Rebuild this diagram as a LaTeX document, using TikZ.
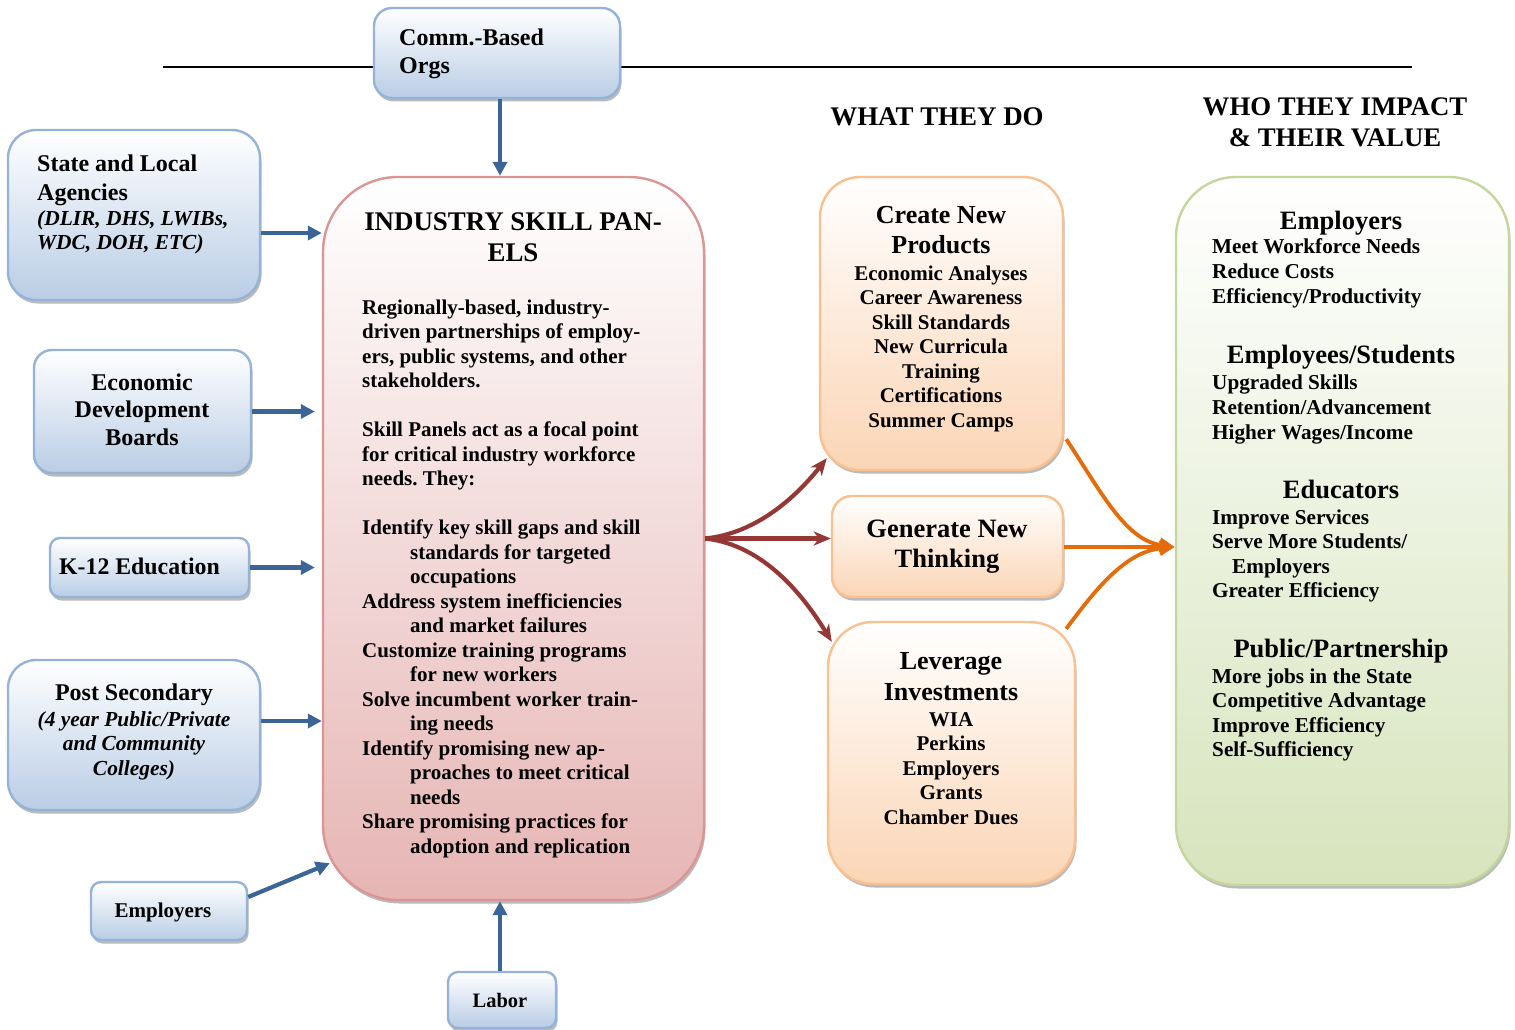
\documentclass[tikz,border=0pt]{standalone}
\usepackage{fontspec}
\setmainfont{Liberation Serif}
\usetikzlibrary{arrows.meta,shadows,calc}
\definecolor{bluefill}{HTML}{B9CDE5}
\definecolor{bluebd}{HTML}{95B3D7}
\definecolor{pinkfill}{HTML}{E6B5B4}
\definecolor{pinkbd}{HTML}{D99694}
\definecolor{orfill}{HTML}{FBD5B5}
\definecolor{orbd}{HTML}{FAC08F}
\definecolor{grfill}{HTML}{D7E4BD}
\definecolor{grbd}{HTML}{C3D69B}
\definecolor{arblue}{HTML}{3B6497}
\definecolor{arred}{HTML}{953735}
\definecolor{arorange}{HTML}{E46C0A}
\newcommand\fsz[2]{\fontsize{#1}{#2}\selectfont}
\frenchspacing
\tikzset{
  shad/.style={drop shadow={shadow xshift=1.5pt,shadow yshift=-3.5pt,fill=black!45,opacity=0.6}},
  bluebox/.style={draw=bluebd,line width=2.4pt,top color=white,bottom color=bluefill,shad,inner sep=0},
  pinkbox/.style={draw=pinkbd,line width=2.4pt,top color=white,bottom color=pinkfill,shad,inner sep=0},
  orbox/.style={draw=orbd,line width=2.4pt,top color=white,bottom color=orfill,shad,inner sep=0},
  grbox/.style={draw=grbd,line width=2.4pt,top color=white,bottom color=grfill,shad,inner sep=0},
  txt/.style={inner sep=0,font=\bfseries},
  barrow/.style={draw=arblue,line width=4.2pt,-{Triangle[length=14pt,width=14pt]}},
  rarrow/.style={draw=arred,line width=4.2pt,-{Stealth[length=17pt,width=14pt,inset=5pt]}},
  oarrow/.style={draw=arorange,line width=3.8pt,-{Triangle[length=15pt,width=14pt]}},
}
\begin{document}
\begin{tikzpicture}[x=1pt,y=-1pt]
\fill[white] (0,0) rectangle (1515,1030);
\useasboundingbox (0,0) rectangle (1515,1030);

% top line
\coordinate (hl1) at (163,67);
\coordinate (hl2) at (1412,67);
\draw[line width=1.6pt] (hl1) -- (hl2);

% boxes
\node[bluebox,minimum width=246pt,minimum height=90pt,rounded corners=18pt] (comm) at (497,53) {};
\node[bluebox,minimum width=252pt,minimum height=170pt,rounded corners=28pt] (state) at (134,215) {};
\node[bluebox,minimum width=217pt,minimum height=123pt,rounded corners=18pt] (econ) at (142.5,411.5) {};
\node[bluebox,minimum width=199pt,minimum height=59pt,rounded corners=10pt] (k12) at (149.5,567.5) {};
\node[bluebox,minimum width=252pt,minimum height=150pt,rounded corners=28pt] (post) at (134,735) {};
\node[bluebox,minimum width=156pt,minimum height=58pt,rounded corners=10pt] (emp) at (169,911) {};
\node[bluebox,minimum width=108pt,minimum height=56pt,rounded corners=10pt] (labor) at (502,1000) {};
\node[pinkbox,minimum width=381pt,minimum height=723pt,rounded corners=75pt] (panel) at (513.5,538.5) {};
\node[orbox,minimum width=243pt,minimum height=293pt,rounded corners=40pt] (create) at (941.5,323.5) {};
\node[orbox,minimum width=231pt,minimum height=101pt,rounded corners=20pt] (gen) at (947.5,546.5) {};
\node[orbox,minimum width=247pt,minimum height=262pt,rounded corners=45pt] (lev) at (951.5,753) {};
\node[grbox,minimum width=333pt,minimum height=708pt,rounded corners=60pt] (green) at (1342.5,531) {};

% texts
\node[txt,anchor=north west,align=left,font=\fsz{24}{28}\bfseries] (commt) at (399,29) {Comm.-Based\\Orgs};
\node[txt,anchor=north west,align=left,font=\fsz{24}{29}\bfseries] (statet) at (37,155) {State and Local\\Agencies};
\node[txt,anchor=north west,align=left,font=\fsz{21.4}{24.5}\bfseries\itshape] (states) at (37,210) {(DLIR, DHS, LWIBs,\\WDC, DOH, ETC)};
\node[txt,anchor=north,align=center,font=\fsz{24}{27.5}\bfseries] (econt) at (142,373.5) {Economic\\Development\\Boards};
\node[txt,anchor=base,font=\fsz{23.8}{26}\bfseries] (k12t) at (139.5,574) {K-12 Education};
\node[txt,anchor=base,font=\fsz{24}{28}\bfseries] (postt) at (134,700) {Post Secondary};
\node[txt,anchor=north,align=center,font=\fsz{21.4}{24.5}\bfseries\itshape] (posts) at (134,711) {(4 year Public/Private\\and Community\\Colleges)};
\node[txt,anchor=base,font=\fsz{21}{25}\bfseries] (empt) at (163,917) {Employers};
\node[txt,anchor=base,font=\fsz{20.5}{25}\bfseries] (labort) at (500,1007) {Labor};

\node[txt,anchor=north,align=center,font=\fsz{26.9}{31}\bfseries] (panelt) at (513,212.5) {INDUSTRY SKILL PAN-\\ELS};
\node[txt,anchor=north west,align=left,font=\fsz{21}{24.5}\bfseries] (panelb) at (362,299.5) {%
Regionally-based, industry-\\
driven partnerships of employ-\\
ers, public systems, and other\\
stakeholders.\\[24.5pt]
Skill Panels act as a focal point\\
for critical industry workforce\\
needs. They:\\[24.5pt]
Identify key skill gaps and skill\\
\hspace*{48pt}standards for targeted\\
\hspace*{48pt}occupations\\
Address system inefficiencies\\
\hspace*{48pt}and market failures\\
Customize training programs\\
\hspace*{48pt}for new workers\\
Solve incumbent worker train-\\
\hspace*{48pt}ing needs\\
Identify promising new ap-\\
\hspace*{48pt}proaches to meet critical\\
\hspace*{48pt}needs\\
Share promising practices for\\
\hspace*{48pt}adoption and replication};

\node[txt,anchor=base,font=\fsz{26.9}{30}\bfseries] (what) at (937,126) {WHAT THEY DO};
\node[txt,anchor=north,align=center,font=\fsz{26.8}{31}\bfseries] (who) at (1335,98) {WHO THEY IMPACT\\\& THEIR VALUE};

\node[txt,anchor=north,align=center,font=\fsz{26}{30}\bfseries] (createt) at (941,206.5) {Create New\\Products};
\node[txt,anchor=north,align=center,font=\fsz{21}{24.5}\bfseries] (createb) at (941,265.5) {Economic Analyses\\Career Awareness\\Skill Standards\\New Curricula\\Training\\Certifications\\Summer Camps};
\node[txt,anchor=north,align=center,font=\fsz{26.5}{30}\bfseries] (gent) at (947,519.5) {Generate New\\Thinking};
\node[txt,anchor=north,align=center,font=\fsz{26}{31}\bfseries] (levt) at (951,652.5) {Leverage\\Investments};
\node[txt,anchor=north,align=center,font=\fsz{21}{24.5}\bfseries] (levb) at (951,712) {WIA\\Perkins\\Employers\\Grants\\Chamber Dues};

\node[txt,anchor=base,font=\fsz{26.5}{30}\bfseries] (g1h) at (1341,229) {Employers};
\node[txt,anchor=north west,align=left,font=\fsz{21.2}{24.8}\bfseries] (g1) at (1212,238.5) {Meet Workforce Needs\\Reduce Costs\\Efficiency/Productivity};
\node[txt,anchor=base,font=\fsz{26.5}{30}\bfseries] (g2h) at (1341,363) {Employees/Students};
\node[txt,anchor=north west,align=left,font=\fsz{21.2}{24.8}\bfseries] (g2) at (1212,374.5) {Upgraded Skills\\Retention/Advancement\\Higher Wages/Income};
\node[txt,anchor=base,font=\fsz{26.5}{30}\bfseries] (g3h) at (1341,498) {Educators};
\node[txt,anchor=north west,align=left,font=\fsz{21.2}{24.5}\bfseries] (g3) at (1212,509.5) {Improve Services\\Serve More Students/\\\hspace*{20pt}Employers\\Greater Efficiency};
\node[txt,anchor=base,font=\fsz{26.5}{30}\bfseries] (g4h) at (1341,657) {Public/Partnership};
\node[txt,anchor=north west,align=left,font=\fsz{21.2}{24.5}\bfseries] (g4) at (1212,668.5) {More jobs in the State\\Competitive Advantage\\Improve Efficiency\\Self-Sufficiency};

% blue arrows
\coordinate (ca) at ([xshift=3pt]comm.south);
\draw[barrow] (ca) -- (ca |- panel.north);
\coordinate (sa) at ([yshift=-18pt]state.east);
\draw[barrow] (sa) -- (sa -| panel.west);
\draw[barrow] (econ.east) -- ($(econ.east -| panel.west)+(-7,0)$);
\draw[barrow] (k12.east) -- ($(k12.east -| panel.west)+(-7,0)$);
\coordinate (pa) at ([yshift=14pt]post.east);
\draw[barrow] (pa) -- (pa -| panel.west);
\draw[barrow] ([yshift=14pt]emp.east) -- ([xshift=8pt,yshift=38pt]panel.south west);
\coordinate (la) at ([xshift=-2pt]labor.north);
\draw[barrow] (la) -- (la |- panel.south);

% red arrows
\draw[rarrow] (panel.east) .. controls (760,533) and (800,492) .. ([xshift=8pt,yshift=13pt]create.south west);
\draw[rarrow] (panel.east) -- (panel.east -| gen.west);
\draw[rarrow] (panel.east) .. controls (765,545) and (805,598) .. ([xshift=5pt,yshift=-21pt]lev.north west);

% orange arrows
\coordinate (gtip) at ([yshift=-16pt]green.west);
\draw[oarrow] ([xshift=2pt,yshift=32pt]create.south east) .. controls (1100,490) and (1125,540) .. (gtip);
\draw[oarrow] (gen.east |- gtip) -- (gtip);
\draw[oarrow] ([xshift=-10pt,yshift=-8pt]lev.north east) .. controls (1095,590) and (1125,552) .. (gtip);
\end{tikzpicture}
\end{document}
